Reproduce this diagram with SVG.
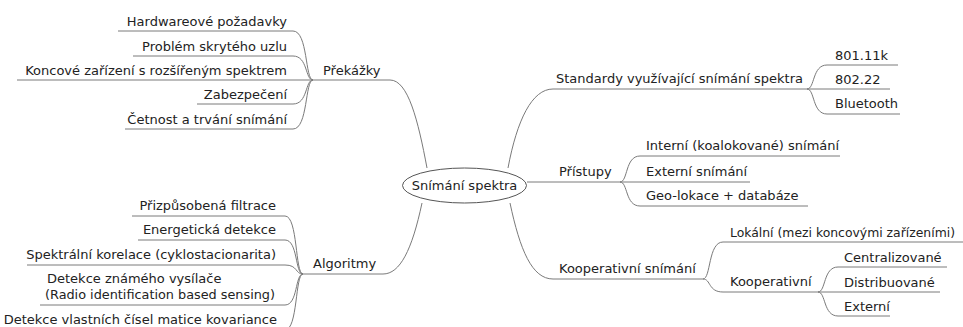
<svg xmlns="http://www.w3.org/2000/svg" width="963" height="327" viewBox="0 0 963 327">
<style>
text{font-family:"DejaVu Sans","Liberation Sans",sans-serif;font-size:13px;fill:#222}
.e{text-anchor:end}
.c{text-anchor:middle}
#connectors path{fill:none;stroke:#7a7a7a;stroke-width:1}
</style>
<rect width="963" height="327" fill="#fff"/>
<g id="connectors">
<path d="M427,168 C418,120 408,80 390,80 L313,80"/>
<path d="M313,80 C305,80 308,31 293,31 L118,31"/>
<path d="M313,80 C305,80 308,56 293,56 L133,56"/>
<path d="M313,80 L17,80"/>
<path d="M313,80 C305,80 308,104 293,104 L197,104"/>
<path d="M313,80 C305,80 308,129 293,129 L125,129"/>
<path d="M422,203 C412,250 400,274 383,274 L303,274"/>
<path d="M303,274 C295,274 298,216 285,216 L132,216"/>
<path d="M303,274 C295,274 298,240 285,240 L138,240"/>
<path d="M303,274 C295,274 298,265 285,265 L27,265"/>
<path d="M303,274 C295,274 298,305 285,305 L40,305"/>
<path d="M303,274 C295,274 298,330 285,330 L10,330"/>
<path d="M508,168 C517,120 532,89 553,89 L807,89"/>
<path d="M807,89 C815,89 812,65 827,65 L898,65"/>
<path d="M807,89 L890,89"/>
<path d="M807,89 C815,89 812,114 827,114 L900,114"/>
<path d="M527,182 L620,182"/>
<path d="M620,182 C628,182 625,156 640,156 L840,156"/>
<path d="M620,182 L750,182"/>
<path d="M620,182 C628,182 625,206 640,206 L808,206"/>
<path d="M510,203 C520,250 532,279 553,279 L703,279"/>
<path d="M703,279 C711,279 708,242 723,242 L963,242"/>
<path d="M703,279 C711,279 708,292 723,292 L818,292"/>
<path d="M818,292 C826,292 823,267 838,267 L947,267"/>
<path d="M818,292 L940,292"/>
<path d="M818,292 C826,292 823,316 838,316 L890,316"/>
</g>
<g id="root"><ellipse cx="464.5" cy="185.5" rx="62" ry="17.5" fill="#fff" stroke="#555" stroke-width="1"/><text class="c" x="464.5" y="190">Snímání spektra</text></g>
<g id="prekazky"><text x="323" y="75">Překážky</text></g>
<g id="hw"><text class="e" x="287" y="26">Hardwareové požadavky</text></g>
<g id="skryty"><text class="e" x="287" y="51">Problém skrytého uzlu</text></g>
<g id="koncove"><text class="e" x="287" y="75">Koncové zařízení s rozšířeným spektrem</text></g>
<g id="zabezpeceni"><text class="e" x="287" y="99">Zabezpečení</text></g>
<g id="cetnost"><text class="e" x="287" y="124">Četnost a trvání snímání</text></g>
<g id="algoritmy"><text x="313" y="268">Algoritmy</text></g>
<g id="filtrace"><text class="e" x="276" y="210">Přizpůsobená filtrace</text></g>
<g id="energeticka"><text class="e" x="276" y="234">Energetická detekce</text></g>
<g id="spektralni"><text class="e" x="276" y="259">Spektrální korelace (cyklostacionarita)</text></g>
<g id="znamy"><text x="47" y="283">Detekce známého vysílače</text><text x="45" y="299" textLength="230" lengthAdjust="spacingAndGlyphs">(Radio identification based sensing)</text></g>
<g id="vlastni"><text class="e" x="277" y="324">Detekce vlastních čísel matice kovariance</text></g>
<g id="standardy"><text x="556" y="83">Standardy využívající snímání spektra</text></g>
<g id="s80111k"><text x="835" y="60">801.11k</text></g>
<g id="s80222"><text x="835" y="84">802.22</text></g>
<g id="bluetooth"><text x="835" y="108">Bluetooth</text></g>
<g id="pristupy"><text x="559" y="176">Přístupy</text></g>
<g id="interni"><text x="646" y="150">Interní (koalokované) snímání</text></g>
<g id="externi1"><text x="646" y="176">Externí snímání</text></g>
<g id="geo"><text x="646" y="200">Geo-lokace + databáze</text></g>
<g id="kooperativni-snimani"><text x="559" y="273">Kooperativní snímání</text></g>
<g id="lokalni"><text x="730" y="237" style="font-size:12.4px">Lokální (mezi koncovými zařízeními)</text></g>
<g id="kooperativni"><text x="730" y="286">Kooperativní</text></g>
<g id="centralizovane"><text x="844" y="262">Centralizované</text></g>
<g id="distribuovane"><text x="844" y="287">Distribuované</text></g>
<g id="externi2"><text x="844" y="311">Externí</text></g>
</svg>
